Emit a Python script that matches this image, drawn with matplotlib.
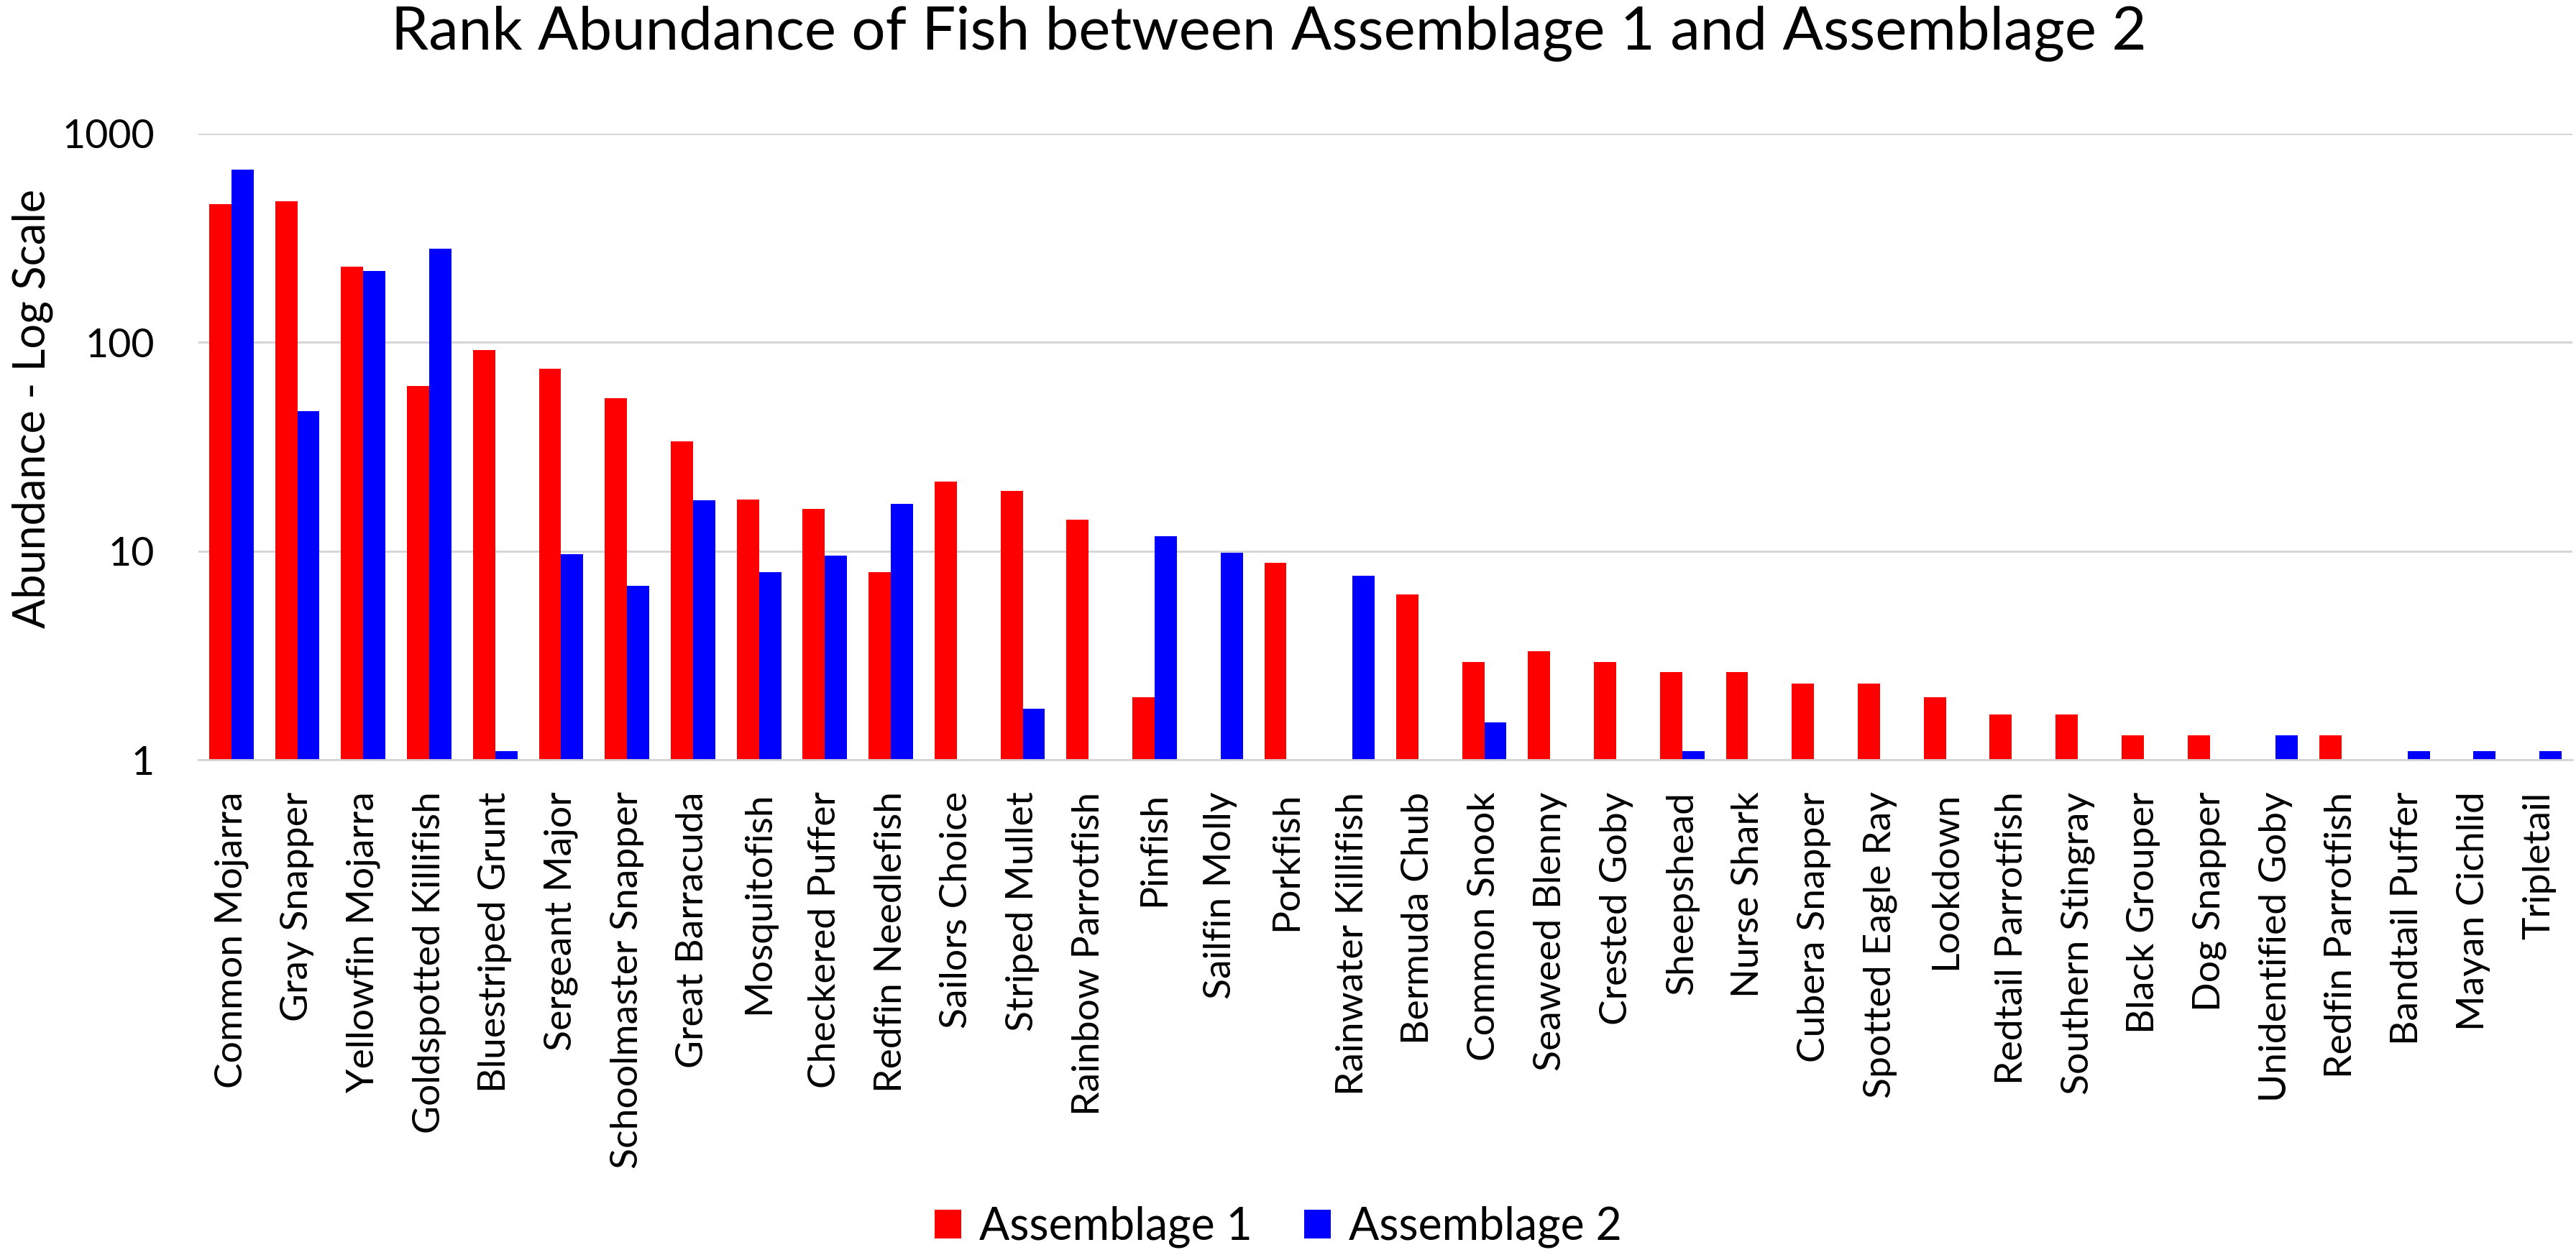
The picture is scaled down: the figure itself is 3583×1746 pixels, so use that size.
import numpy as np
import matplotlib
matplotlib.use('Agg')
import matplotlib.pyplot as plt

plt.rcParams['font.family'] = ['Lato', 'DejaVu Sans']

# 鱼类名称（按丰度排序）
species = ['Common Mojarra', 'Gray Snapper', 'Yellowfin Mojarra', 'Goldspotted Killifish',
           'Bluestriped Grunt', 'Sergeant Major', 'Schoolmaster Snapper', 'Great Barracuda',
           'Mosquitofish', 'Checkered Puffer', 'Redfin Needlefish', 'Sailors Choice',
           'Striped Mullet', 'Rainbow Parrotfish', 'Pinfish', 'Sailfin Molly', 'Porkfish',
           'Rainwater Killifish', 'Bermuda Chub', 'Common Snook', 'Seaweed Blenny',
           'Crested Goby', 'Sheepshead', 'Nurse Shark', 'Cubera Snapper', 'Spotted Eagle Ray',
           'Lookdown', 'Redtail Parrotfish', 'Southern Stingray', 'Black Grouper',
           'Dog Snapper', 'Unidentified Goby', 'Redfin Parrotfish', 'Bandtail Puffer',
           'Mayan Cichlid', 'Tripletail']

# 丰度（0 = 未出现）
assemblage1 = [460, 473, 230, 62, 92, 75, 54, 33.5, 17.6, 15.9, 7.9, 21.6,
               19.4, 14.1, 2.0, 0, 8.8, 0, 6.2, 2.95, 3.3,
               2.95, 2.63, 2.63, 2.32, 2.32, 2.0, 1.65, 1.65, 1.31,
               1.31, 0, 1.31, 0, 0, 0]
assemblage2 = [670, 47, 219, 282, 1.1, 9.7, 6.8, 17.5, 7.9, 9.5, 16.8, 0,
               1.75, 0, 11.8, 9.8, 0, 7.6, 0, 1.51, 0,
               0, 1.1, 0, 0, 0, 0, 0, 0, 0,
               0, 1.31, 0, 1.1, 1.1, 1.1]

yticks = [1, 10, 100, 1000]

W, H = 3583, 1746
fig = plt.figure(figsize=(W / 100, H / 100), dpi=100)
ax = fig.add_axes([276 / W, 1 - 1057 / H, 3302 / W, 871 / H])

x = np.arange(len(species))
bw = 0.337
a1 = np.array(assemblage1, dtype=float)
a2 = np.array(assemblage2, dtype=float)
a1[a1 <= 0] = np.nan
a2[a2 <= 0] = np.nan

ax.bar(x - bw / 2, a1, bw, color='#ff0000', label='Assemblage 1', zorder=2)
ax.bar(x + bw / 2, a2, bw, color='#0000ff', label='Assemblage 2', zorder=2)

ax.set_yscale('log')
ax.set_ylim(1, 1000)
ax.set_xlim(-0.5, len(species) - 0.5)
ax.set_yticks(yticks)
ax.set_yticklabels([str(v) for v in yticks])
ax.yaxis.set_minor_locator(matplotlib.ticker.NullLocator())
ax.set_xticks(x)
ax.set_xticklabels(species, rotation=90, ha='center', va='top')

ax.tick_params(axis='x', length=0, pad=32, labelsize=38.5)
ax.tick_params(axis='y', length=0, pad=44, labelsize=40)

ax.grid(axis='y', color='#d4d4d4', linewidth=2.0, zorder=0)
ax.set_axisbelow(True)
for s in ['top', 'right', 'left']:
    ax.spines[s].set_visible(False)
ax.spines['bottom'].set_color('#d4d4d4')
ax.spines['bottom'].set_linewidth(2.0)

# 标题和Y轴标签
fig.text(1765 / W, 1 - 68 / H, 'Rank Abundance of Fish between Assemblage 1 and Assemblage 2',
         ha='center', va='baseline', fontsize=60)
fig.text(16 / W, 1 - 568 / H, 'Abundance - Log Scale', rotation=90,
         ha='left', va='center', fontsize=44)

# 图例
fig.legend(loc='center', bbox_to_anchor=(1778 / W, 1 - 1707 / H), ncol=2, frameon=False,
           fontsize=45, handlelength=0.6, handleheight=0.62, handletextpad=0.4,
           columnspacing=1.15, borderpad=0)

fig.savefig('out.png', dpi=100, facecolor='white')
